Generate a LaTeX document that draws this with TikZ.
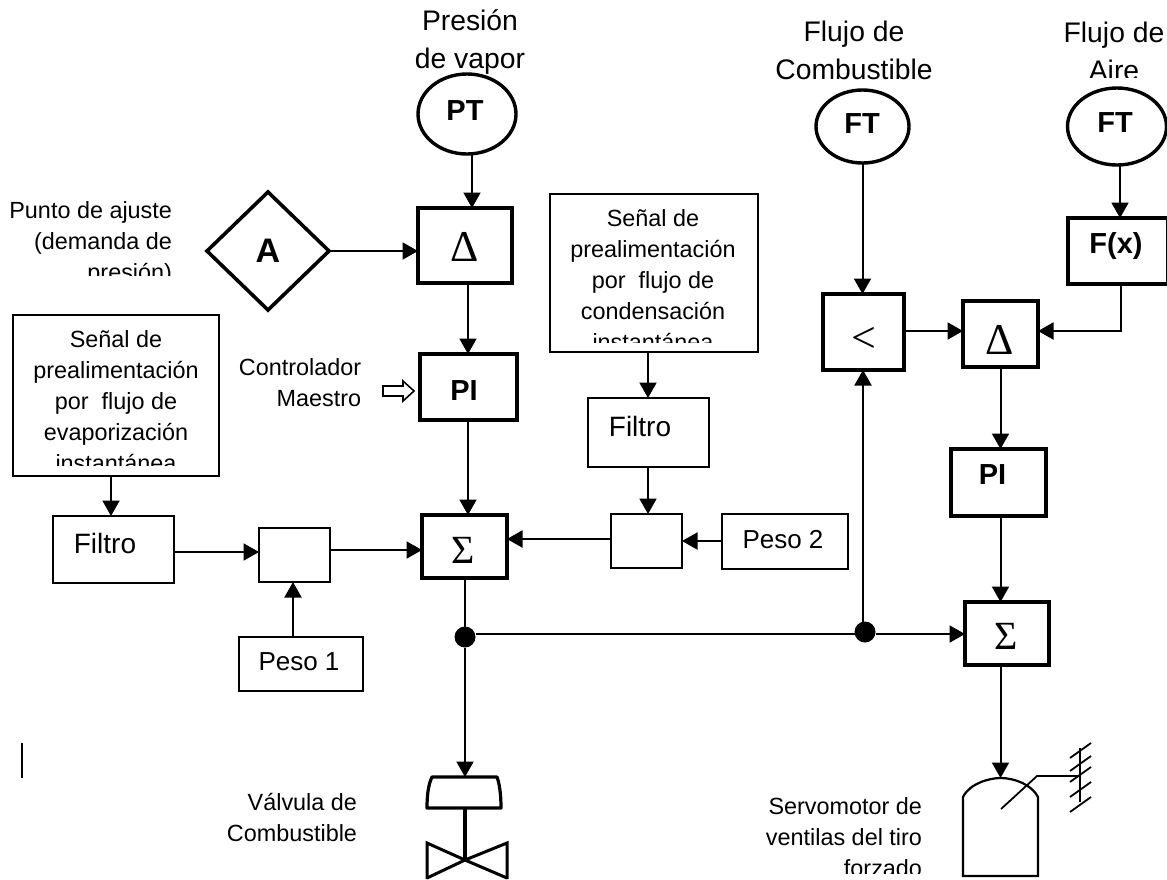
\documentclass[tikz,border=0pt]{standalone}
\usepackage{fontspec}
\setmainfont{Liberation Sans}
\newfontfamily\greekfont{Liberation Serif}
\usetikzlibrary{arrows.meta,shapes.geometric}
\newcommand{\fsz}[2]{\fontsize{#1}{#2}\selectfont}
\tikzset{
  thinbox/.style={draw,line width=2pt,minimum width=#1,inner sep=0pt,outer sep=0pt},
  thickbox/.style={draw,line width=4.4pt,minimum width=#1,inner sep=0pt,outer sep=0pt},
  tag/.style={ellipse,draw,line width=3.4pt,inner sep=0pt,outer sep=0pt},
  flow/.style={line width=2pt,-{Triangle[length=15.5pt,width=17pt]}},
  plain/.style={line width=2pt},
  txt/.style={inner sep=0pt,outer sep=0pt,font=\fsz{26}{31}},
  toptxt/.style={inner sep=0pt,outer sep=0pt,align=center,font=\fsz{28.3}{38}},
  boxtxt/.style={inner sep=0pt,outer sep=0pt,align=center,font=\fsz{23.4}{31}},
  rtxt/.style={inner sep=0pt,outer sep=0pt,align=right,font=\fsz{23.4}{31}},
  bold/.style={inner sep=0pt,outer sep=0pt,font=\fsz{29}{30}\bfseries},
  grk/.style={inner sep=0pt,outer sep=0pt,font=\greekfont\fsz{#1}{#1}},
  dot/.style={circle,fill=black,minimum size=21pt,inner sep=0pt,outer sep=0pt}
}
\begin{document}
\begin{tikzpicture}[x=1pt,y=-1pt]
\useasboundingbox (0,0) rectangle (1167,879);
% instruments
\node[tag,minimum width=98pt,minimum height=80pt] (pt) at (467,114) {};
\node[tag,minimum width=93pt,minimum height=73pt] (fta) at (862.5,126.5) {};
\begin{scope}
\clip (0,0) rectangle (1167,879);
\node[tag,minimum width=99pt,minimum height=77pt] (ftb) at (1117,126.5) {};
\end{scope}
% blocks
\node[diamond,draw,line width=3.6pt,minimum width=122pt,minimum height=118pt,inner sep=0pt,outer sep=0pt] (a) at (268,251) {};
\node[thickbox=94pt,minimum height=75pt] (d1) at (465,245.5) {};
\node[thickbox=97pt,minimum height=66pt] (pi1) at (468.5,387) {};
\node[thickbox=85pt,minimum height=63pt] (s1) at (464.5,546.5) {};
\node[thinbox=121pt,minimum height=67pt] (fa) at (113.5,549.5) {};
\node[thinbox=71pt,minimum height=54pt] (ma) at (294.5,555) {};
\node[thinbox=124pt,minimum height=54pt] (pa) at (301,664) {};
\node[thinbox=206pt,minimum height=161pt] (ba) at (116,395.5) {};
\node[thinbox=208pt,minimum height=158pt] (bb) at (654,273) {};
\node[thinbox=121pt,minimum height=69pt] (fb) at (648.5,432.5) {};
\node[thinbox=71pt,minimum height=54pt] (mb) at (646.5,541) {};
\node[thinbox=126pt,minimum height=55pt] (pb) at (785,541) {};
\node[thickbox=81pt,minimum height=76pt] (lt) at (863.5,332) {};
\node[thickbox=75pt,minimum height=66pt] (d2) at (1000.5,334) {};
\begin{scope}
\clip (0,0) rectangle (1167,879);
\node[thickbox=100pt,minimum height=66pt] (fx) at (1118,251) {};
\end{scope}
\node[thickbox=95pt,minimum height=67pt] (pi2) at (998.5,482.5) {};
\node[thickbox=84pt,minimum height=63pt] (s2) at (1007,633.5) {};
\node[dot] (j1) at (465,637) {};
\node[dot] (j2) at (865,632) {};
\coordinate (vt) at (465,777);
\coordinate (st) at (1000.5,778);
% connectors
\draw[flow] ([xshift=5pt]pt.south) -- ([xshift=7pt]d1.north);
\draw[flow] ([xshift=3pt]d1.south) -- ([xshift=-0.5pt]pi1.north);
\draw[flow] ([xshift=-0.5pt]pi1.south) -- ([xshift=3.5pt]s1.north);
\draw[flow] (a.east) -- (d1.west |- a.east);
\draw[plain] ([xshift=0.5pt]s1.south) -- (j1.north);
\draw[flow] (j1.south) -- (vt);
\draw[flow] ([xshift=-6pt]bb.south) -- ([xshift=-0.5pt]fb.north);
\draw[flow] ([xshift=-0.5pt]fb.south) -- ([xshift=1.5pt]mb.north);
\draw[flow] (pb.west) -- (mb.east);
\draw[flow] ([yshift=2pt]mb.west) -- ([yshift=7.5pt]s1.east);
\draw[flow] ([xshift=-5pt]ba.south) -- ([xshift=-2.5pt]fa.north);
\draw[flow] ([yshift=-2.5pt]fa.east) -- ([yshift=3pt]ma.west);
\draw[flow] ([yshift=5pt]ma.east) -- ([yshift=-3.5pt]s1.west);
\draw[flow] ([xshift=-8pt]pa.north) -- ([xshift=-1.5pt]ma.south);
\draw[flow] (fta.south) -- ([xshift=-1pt]lt.north);
\draw[flow] ([xshift=3pt]ftb.south) -- ([xshift=2pt]fx.north);
\draw[flow] ([yshift=1pt]lt.east) -- ([yshift=3pt]d2.west);
\draw[flow] ([xshift=3pt]fx.south) |- ([yshift=3pt]d2.east);
\draw[flow] (d2.south) -- ([xshift=2pt]pi2.north);
\draw[flow] ([xshift=2pt]pi2.south) -- ([xshift=-6.5pt]s2.north);
\draw[flow] ([xshift=-6.5pt]s2.south) -- (st);
\draw[flow] ([xshift=-2pt]j2.north) -- ([xshift=-0.5pt]lt.south);
\draw[plain] ([yshift=3pt]j1.east) -- ([yshift=-2pt]j2.west);
\draw[flow] ([yshift=-2pt]j2.east) -- ([yshift=-0.5pt]s2.west);
% hollow arrow
\draw[line width=1.6pt] (383,386) -- (403,386) -- (403,381) -- (414,391) -- (403,401) -- (403,396) -- (383,396) -- cycle;
% valve
\draw[line width=3.2pt,line join=round] (vt) -- (432,777) .. controls (428,785) and (427,797) .. (427,808) -- (501,808) .. controls (501,797) and (500,785) .. (497,777) -- cycle;
\draw[line width=3.2pt] (465,808) -- (465,860);
\draw[line width=3pt] (465,860) -- (427,843) -- (427,879);
\draw[line width=3pt] (427,878) -- (465,860) -- (507,843) -- (507,879);
\draw[line width=3pt] (465,860) -- (507,878);
% servomotor
\draw[line width=2.2pt] (963,876) -- (963,797) .. controls (970,783) and (990,778) .. (st) .. controls (1015,778) and (1032,785) .. (1038,797) -- (1038,876) -- cycle;
\draw[line width=1.8pt] (1001,809) -- (1037,776) -- (1080,776);
\draw[line width=1.8pt] (1080,748) -- (1080,802);
\foreach \yy in {758,771,782,797,812} \draw[line width=1.8pt] (1070,\yy) -- (1091,\yy-15);
% stray mark
\draw[line width=1.6pt] (22,743) -- (22,778);
% labels
\node[toptxt] (t1) at (470,42) {Presión\\de vapor};
\node[toptxt] (t2) at (854,50) {Flujo de\\Combustible};
\begin{scope}
\clip (1000,0) rectangle (1167,77);
\node[toptxt] (t3) at (1114,51) {Flujo de\\Aire};
\end{scope}
\begin{scope}
\clip (0,190) rectangle (200,275);
\node[rtxt,anchor=north east] (t4) at (172,202) {Punto de ajuste\\(demanda de\\presión)};
\end{scope}
\begin{scope}
\clip (14,316) rectangle (218,465);
\node[boxtxt,anchor=north] (t5) at (116,331) {Señal de\\prealimentación\\por\ \ flujo de\\evaporización\\instantánea};
\end{scope}
\begin{scope}
\clip (551,195) rectangle (757,342);
\node[boxtxt,anchor=north] (t6) at (653,210) {Señal de\\prealimentación\\por\ \ flujo de\\condensación\\instantánea};
\end{scope}
\node[rtxt] (t7) at (300,383) {Controlador\\Maestro};
\node[rtxt,anchor=north east] (t8) at (357,793) {Válvula de\\Combustible};
\begin{scope}
\clip (700,780) rectangle (930,873);
\node[rtxt,anchor=north east] (t9) at (922,798) {Servomotor de\\ventilas del tiro\\forzado};
\end{scope}
\node[bold] (l1) at (465,111) {PT};
\node[bold] (l2) at (862,124) {FT};
\node[bold] (l3) at (1115,123) {FT};
\node[bold,font=\fsz{34}{34}\bfseries] (l4) at (268,251) {A};
\node[bold] (l5) at (1116,246) {F(x)};
\node[bold] (l6) at (464,391) {PI};
\node[bold] (l7) at (992.5,475) {PI};
\node[grk=44] (l8) at (465,247) {Δ};
\node[grk=44] (l9) at (999.5,340) {Δ};
\node[grk=40] (l10) at (463,550) {Σ};
\node[grk=40] (l11) at (1006,636) {Σ};
\node[grk=44] (l12) at (864,340) {<};
\node[txt,font=\fsz{28}{31}] (l13) at (640,426) {Filtro};
\node[txt,font=\fsz{28}{31}] (l14) at (105,543) {Filtro};
\node[txt] (l15) at (783,540) {Peso 2};
\node[txt] (l16) at (299,662) {Peso 1};
\end{tikzpicture}
\end{document}
